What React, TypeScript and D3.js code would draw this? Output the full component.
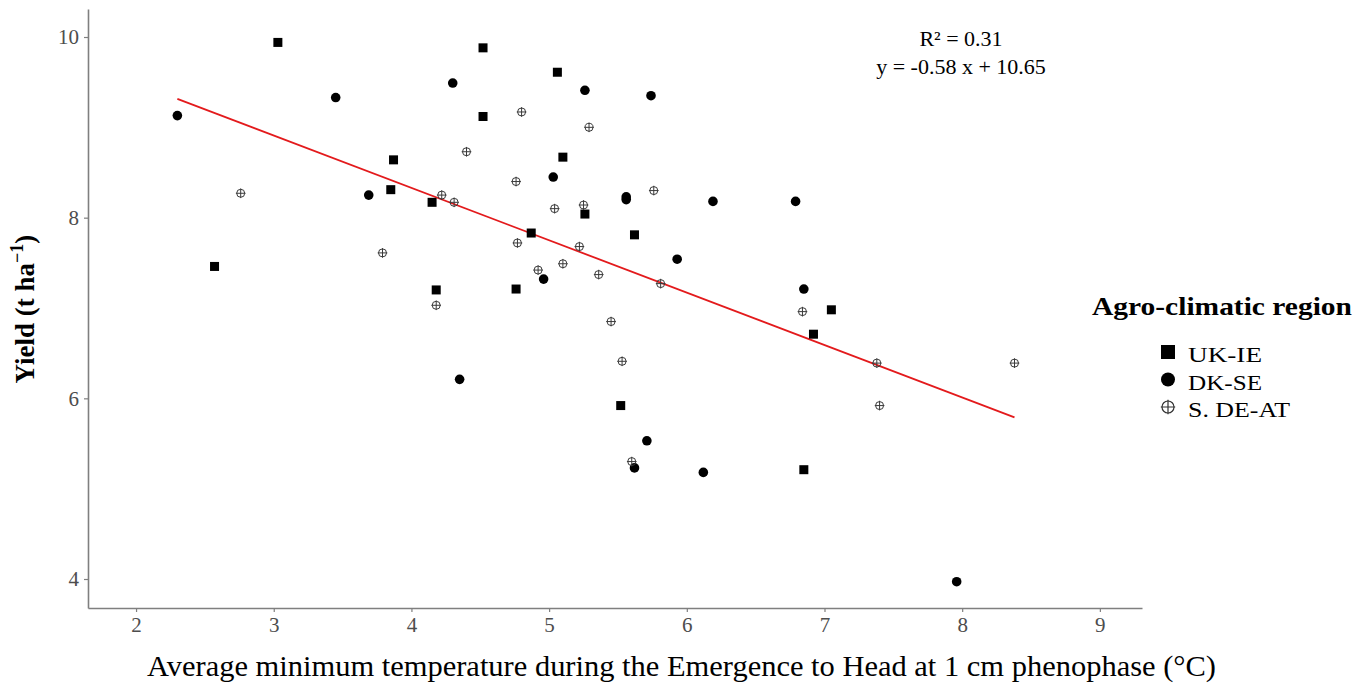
import { useEffect, useRef } from 'react'
import * as d3 from 'd3'

// UK-IE (squares)
const ukX = [3.03, 4.52, 4.52, 3.87, 3.85, 4.15, 2.57, 4.18, 5.06, 5.10, 5.26, 4.87, 5.62, 4.76, 7.05, 6.92, 6.85, 5.52]
const ukY = [9.94, 9.88, 9.12, 8.64, 8.31, 8.17, 7.46, 7.20, 9.61, 8.67, 8.04, 7.83, 7.81, 7.21, 6.98, 6.71, 5.21, 5.92]

// DK-SE (filled circles)
const dkX = [2.30, 3.45, 4.30, 3.69, 5.26, 5.74, 5.03, 5.56, 5.56, 6.19, 6.79, 5.93, 4.96, 6.85, 4.35, 5.71, 5.62, 6.12, 7.96]
const dkY = [9.13, 9.33, 9.49, 8.25, 9.41, 9.35, 8.45, 8.23, 8.20, 8.18, 8.18, 7.54, 7.32, 7.21, 6.21, 5.53, 5.23, 5.18, 3.97]

// S. DE-AT (circled plus)
const deX = [2.76, 4.22, 4.31, 4.40, 3.79, 4.18, 4.80, 5.29, 4.76, 5.76, 5.04, 5.25, 4.77, 5.22, 5.10, 4.92, 5.36, 5.81, 5.45, 6.84, 7.38, 8.38, 7.40, 5.53, 5.60]
const deY = [8.27, 8.25, 8.17, 8.73, 7.61, 7.03, 9.17, 9.00, 8.40, 8.30, 8.10, 8.14, 7.72, 7.68, 7.49, 7.42, 7.37, 7.27, 6.85, 6.96, 6.39, 6.39, 5.92, 6.41, 5.30]

const regions = ['UK-IE', 'DK-SE', 'S. DE-AT']
const xTicks = [2, 3, 4, 5, 6, 7, 8, 9]
const yTicks = [4, 6, 8, 10]
const slope = -0.58
const intercept = 10.65

const serif = '"Liberation Serif", "Times New Roman", serif'

const App = () => {
  const ref = useRef<SVGSVGElement | null>(null)

  useEffect(() => {
    document.body.style.margin = '0'
    if (!ref.current) return
    const svg = d3.select(ref.current)
    svg.selectAll('*').remove()

    const left = 88
    const right = 1142
    const top = 9
    const bottom = 608

    const x = d3.scaleLinear().domain([1.651, 9.306]).range([left, right])
    const y = d3.scaleLinear().domain([3.679, 10.31]).range([bottom, top])

    // 坐標軸
    const xAxis = svg.append('g')
      .attr('transform', `translate(0,${bottom})`)
      .call(d3.axisBottom(x).tickValues(xTicks).tickFormat(d3.format('d')).tickSize(4).tickSizeOuter(0).tickPadding(5))
    const yAxis = svg.append('g')
      .attr('transform', `translate(${left},0)`)
      .call(d3.axisLeft(y).tickValues(yTicks).tickFormat(d3.format('d')).tickSize(4).tickSizeOuter(0).tickPadding(5))

    ;[xAxis, yAxis].forEach(a => {
      a.select('.domain').attr('stroke', '#7f7f7f').attr('stroke-width', 1.6)
      a.selectAll('.tick line').attr('stroke', '#7f7f7f').attr('stroke-width', 1.2)
      a.selectAll('.tick text')
        .style('font-family', serif)
        .style('font-size', '21px')
        .attr('fill', '#4d4d4d')
    })

    // 回歸線
    const allX = [...ukX, ...dkX, ...deX]
    const [x0, x1] = d3.extent(allX) as [number, number]
    svg.append('line')
      .attr('x1', x(x0)).attr('y1', y(slope * x0 + intercept))
      .attr('x2', x(x1)).attr('y2', y(slope * x1 + intercept))
      .attr('stroke', '#e31a1c')
      .attr('stroke-width', 1.8)

    // 資料點
    const sq = 9
    svg.append('g').selectAll('rect')
      .data(d3.range(ukX.length))
      .enter()
      .append('rect')
      .attr('x', i => x(ukX[i]) - sq / 2)
      .attr('y', i => y(ukY[i]) - sq / 2)
      .attr('width', sq)
      .attr('height', sq)
      .attr('fill', '#000')

    svg.append('g').selectAll('circle')
      .data(d3.range(dkX.length))
      .enter()
      .append('circle')
      .attr('cx', i => x(dkX[i]))
      .attr('cy', i => y(dkY[i]))
      .attr('r', 4.8)
      .attr('fill', '#000')

    const crossPath = (cx: number, cy: number, r: number, ext: number) =>
      `M${cx - r - ext},${cy}H${cx + r + ext}M${cx},${cy - r - ext}V${cy + r + ext}`

    const de = svg.append('g')
    d3.range(deX.length).forEach(i => {
      const cx = x(deX[i])
      const cy = y(deY[i])
      de.append('circle')
        .attr('cx', cx).attr('cy', cy).attr('r', 4)
        .attr('fill', 'none').attr('stroke', '#3a3a3a').attr('stroke-width', 1)
      de.append('path')
        .attr('d', crossPath(cx, cy, 4, 0.8))
        .attr('stroke', '#3a3a3a').attr('stroke-width', 1)
    })

    // 方程式標註
    const ann = svg.append('g')
      .style('font-family', serif)
      .style('font-size', '22px')
      .attr('text-anchor', 'middle')
      .attr('fill', '#000')
    ann.append('text').attr('x', 961).attr('y', 46).text('R² = 0.31')
    ann.append('text').attr('x', 961).attr('y', 74).text(`y = ${slope} x + ${intercept}`)

    // 軸標題
    svg.append('text')
      .attr('x', 147)
      .attr('y', 676)
      .attr('textLength', 1069)
      .attr('lengthAdjust', 'spacingAndGlyphs')
      .style('font-family', serif)
      .style('font-size', '29px')
      .text('Average minimum temperature during the Emergence to Head at 1 cm phenophase (°C)')

    const yt = svg.append('text')
      .attr('transform', 'translate(34,309) rotate(-90)')
      .attr('text-anchor', 'middle')
      .style('font-family', serif)
      .style('font-size', '27px')
      .style('font-weight', 'bold')
    yt.append('tspan').text('Yield (t ha')
    yt.append('tspan').attr('dy', -11).style('font-size', '18px').text('−1')
    yt.append('tspan').attr('dy', 11).text(')')

    // 圖例
    const lg = svg.append('g').style('font-family', serif)
    lg.append('text')
      .attr('x', 1092).attr('y', 315)
      .attr('textLength', 260)
      .attr('lengthAdjust', 'spacingAndGlyphs')
      .style('font-size', '25px')
      .style('font-weight', 'bold')
      .text('Agro-climatic region')

    const keyY = [352, 379.5, 407]
    const labW = [74, 74, 102]
    lg.append('rect')
      .attr('x', 1168 - 7).attr('y', keyY[0] - 7)
      .attr('width', 14).attr('height', 14).attr('fill', '#000')
    lg.append('circle')
      .attr('cx', 1168).attr('cy', keyY[1]).attr('r', 7).attr('fill', '#000')
    lg.append('circle')
      .attr('cx', 1168).attr('cy', keyY[2]).attr('r', 6)
      .attr('fill', 'none').attr('stroke', '#333').attr('stroke-width', 1.2)
    lg.append('path')
      .attr('d', crossPath(1168, keyY[2], 6, 1.2))
      .attr('stroke', '#333').attr('stroke-width', 1.2)

    lg.selectAll('.lab')
      .data(regions)
      .enter()
      .append('text')
      .attr('class', 'lab')
      .attr('x', 1188)
      .attr('y', (d, i) => keyY[i] + 10)
      .attr('textLength', (d, i) => labW[i])
      .attr('lengthAdjust', 'spacingAndGlyphs')
      .style('font-size', '21px')
      .text(d => d)
  }, [])

  return <svg ref={ref} width={1370} height={686} style={{ display: 'block', background: '#fff' }} />
}

export default App
